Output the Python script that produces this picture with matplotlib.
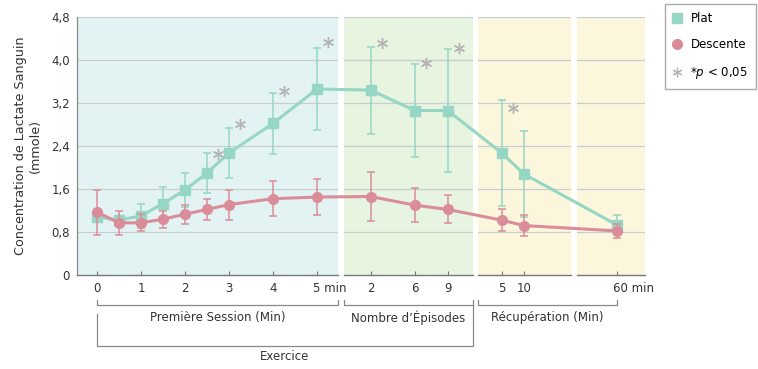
import matplotlib.pyplot as plt
import matplotlib.transforms as mtransforms
import numpy as np
from matplotlib.lines import Line2D

# x values per part of the protocol
session_min = [0, 0.5, 1, 1.5, 2, 2.5, 3, 4, 5]
episodes = [2, 6, 9]
recovery_min = [5, 10, 60]

# plat (flat running)
plat_session = [1.08, 1.02, 1.10, 1.33, 1.58, 1.90, 2.27, 2.82, 3.46]
plat_session_err = [0.10, 0.05, 0.22, 0.30, 0.32, 0.37, 0.47, 0.57, 0.77]
plat_episodes = [3.44, 3.06, 3.06]
plat_episodes_err = [0.81, 0.87, 1.15]
plat_recovery = [2.27, 1.88, 0.93]
plat_recovery_err = [0.98, 0.80, 0.19]

# descente (downhill running)
desc_session = [1.17, 0.97, 0.97, 1.04, 1.13, 1.22, 1.31, 1.42, 1.45]
desc_session_err = [0.42, 0.22, 0.16, 0.16, 0.18, 0.20, 0.28, 0.33, 0.33]
desc_episodes = [1.46, 1.30, 1.22]
desc_episodes_err = [0.46, 0.31, 0.26]
desc_recovery = [1.02, 0.92, 0.82]
desc_recovery_err = [0.21, 0.20, 0.13]

# significance stars (p < 0.05)
star_session = [2.5, 3, 4, 5]
star_session_y = [2.25, 2.81, 3.43, 4.33]
star_episodes = [2, 6, 9]
star_episodes_y = [4.31, 3.94, 4.23]
star_recovery = [5]
star_recovery_y = [3.10]

session_ticks = [0, 1, 2, 3, 4, 5]
session_labels = ["0", "1", "2", "3", "4", "5 min"]
episode_labels = ["2", "6", "9"]
recovery_labels = ["5", "10", "60 min"]
y_ticks = [0, 0.8, 1.6, 2.4, 3.2, 4.0, 4.8]
y_labels = ["0", "0,8", "1,6", "2,4", "3,2", "4,0", "4,8"]

GREEN = "#96d6c4"
PINK = "#da8c99"
STAR = "#b4b4b4"
GRID = "#c8cdcd"
TEXT = "#333333"

# panels of the composite x axis: (start, end, colour)
panels = [(-0.4545, 5.477, "#e3f3f3"), (5.614, 8.539, "#e7f4e0"),
          (8.666, 10.766, "#fcf7dc"), (10.90, 12.4545, "#fcf7dc")]


def pos_session(t):
    return np.asarray(t, dtype=float)


def pos_episodes(n):
    return 5.72 + 0.25 * np.asarray(n, dtype=float)


def pos_recovery(t):
    # broken scale: 60 min sits in its own panel
    t = np.asarray(t, dtype=float)
    return np.where(t <= 10, 8.7 + 0.1 * t, 10.62 + 0.02 * t)


plt.rcParams["font.family"] = ["DejaVu Sans"]
fig = plt.figure(figsize=(7.58, 3.69), dpi=100)
ax = fig.add_axes([77 / 758, 94 / 369, 568 / 758, 258 / 369])
ax.set_xlim(panels[0][0], panels[-1][1])
ax.set_ylim(0, 4.8)

for x0, x1, c in panels:
    ax.axvspan(x0, x1, color=c, lw=0, zorder=0)
for y in y_ticks[1:]:
    ax.axhline(y, color=GRID, lw=0.9, zorder=1)
for (x0, x1, c), nxt in zip(panels[:-1], panels[1:]):
    ax.axvspan(x1, nxt[0], color="white", lw=0, zorder=1.5)

x_all = np.concatenate([pos_session(session_min), pos_episodes(episodes),
                        pos_recovery(recovery_min)])
plat = plat_session + plat_episodes + plat_recovery
plat_err = plat_session_err + plat_episodes_err + plat_recovery_err
desc = desc_session + desc_episodes + desc_recovery
desc_err = desc_session_err + desc_episodes_err + desc_recovery_err

ax.errorbar(x_all, plat, yerr=plat_err, color=GREEN, lw=2.2, marker="s",
            ms=7, elinewidth=1.1, capsize=3, capthick=1.1, zorder=3)
ax.errorbar(x_all, desc, yerr=desc_err, color=PINK, lw=2.2, marker="o",
            ms=7, elinewidth=1.1, capsize=3, capthick=1.1, zorder=4)

star_x = np.concatenate([pos_session(star_session), pos_episodes(star_episodes),
                         pos_recovery(star_recovery)])
star_y = star_session_y + star_episodes_y + star_recovery_y
shift = mtransforms.ScaledTranslation(11 / 100, 0, fig.dpi_scale_trans)
ax.plot(star_x, star_y, ls="none", marker=(6, 2, 0), ms=8, mew=1.0,
        color=STAR, transform=ax.transData + shift, zorder=5)

# axes styling
for side in ["top", "right", "bottom"]:
    ax.spines[side].set_visible(False)
ax.spines["left"].set_color("#888888")
ax.spines["left"].set_linewidth(0.9)
for x0, x1, c in panels:
    ax.plot([x0, x1], [0, 0], color="#777777", lw=1.0, clip_on=False, zorder=5)

ax.set_yticks(y_ticks)
ax.set_yticklabels(y_labels)
ax.tick_params(axis="y", length=0, pad=5, labelsize=8.5, labelcolor=TEXT)

xt = np.concatenate([pos_session(session_ticks), pos_episodes(episodes),
                     pos_recovery(recovery_min)])
ax.set_xticks(xt)
ax.set_xticklabels(session_labels + episode_labels + recovery_labels)
ax.tick_params(axis="x", direction="in", length=3, width=0.8, color="#777777",
               pad=5, labelsize=8.5, labelcolor=TEXT)
nudge = mtransforms.ScaledTranslation(-4 / 100, 0, fig.dpi_scale_trans)
for lab in ax.get_xticklabels():
    if "min" in lab.get_text():
        lab.set_horizontalalignment("left")
        lab.set_transform(lab.get_transform() + nudge)

ax.set_ylabel("Concentration de Lactate Sanguin\n(mmole)", fontsize=9.2,
              color=TEXT, labelpad=7)

# brackets under the axis
tr = ax.get_xaxis_transform()
br = dict(color="#888888", lw=0.9, clip_on=False, transform=tr)
y_top, y_br, y_ex = -0.097, -0.118, -0.274
groups = [(0, panels[0][1], "Première Session (Min)"),
          (panels[1][0], panels[1][1], "Nombre d’Épisodes"),
          (panels[2][0], pos_recovery(60), "Récupération (Min)")]
for x0, x1, label in groups:
    ax.plot([x0, x0, x1, x1], [y_top, y_br, y_br, y_top], **br)
    ax.text((x0 + x1) / 2, -0.165, label, transform=tr, ha="center",
            va="center", fontsize=8.5, color=TEXT)
ax.plot([0, 0, panels[1][1], panels[1][1]], [-0.151, y_ex, y_ex, y_br], **br)
ax.text(panels[1][1] / 2, -0.317, "Exercice", transform=tr, ha="center",
        va="center", fontsize=8.5, color=TEXT)

handles = [
    Line2D([], [], ls="none", marker="s", ms=7, color=GREEN),
    Line2D([], [], ls="none", marker="o", ms=7, color=PINK),
    Line2D([], [], ls="none", marker=(6, 2, 0), ms=7, mew=0.9, color=STAR),
]
fig.legend(handles, ["Plat", "Descente", r"*$\mathit{p}$ < 0,05"],
           loc="upper left", bbox_to_anchor=(665 / 758, 1 - 4 / 369),
           borderaxespad=0, fancybox=False, edgecolor="#aaaaaa",
           fontsize=8.5, handlelength=0.8, handletextpad=0.7,
           labelspacing=1.15, borderpad=0.65, framealpha=1)

fig.savefig("out.png", dpi=100)
